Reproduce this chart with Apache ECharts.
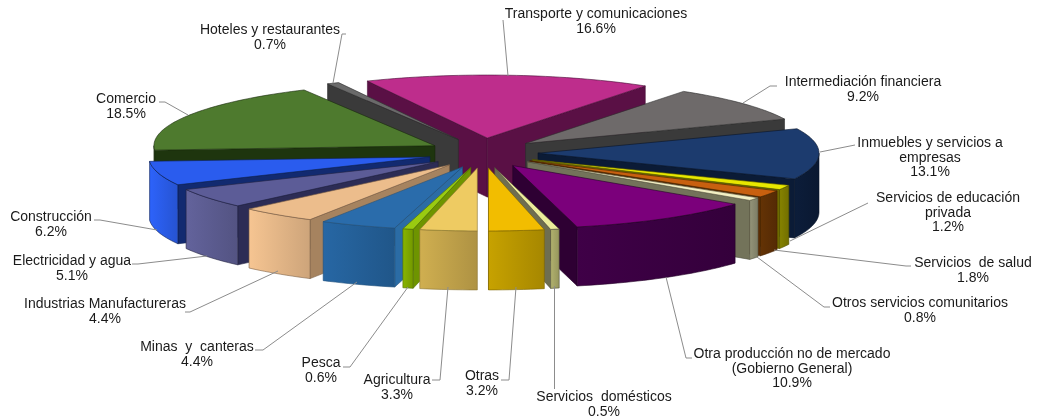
<!DOCTYPE html>
<html><head><meta charset="utf-8">
<style>html,body{margin:0;padding:0;background:#fff}#c{width:1038px;height:420px}</style>
<script src="https://cdn.jsdelivr.net/npm/echarts@6/dist/echarts.min.js"></script>
</head><body><div id="c"></div>
<script>
const categories = ['Transporte y comunicaciones','Intermediación financiera','Inmuebles y servicios a\nempresas','Servicios de educación\nprivada','Servicios  de salud','Otros servicios comunitarios','Otra producción no de mercado\n(Gobierno General)','Servicios  domésticos','Otras','Agricultura','Pesca','Minas  y  canteras','Industrias Manufactureras','Electricidad y agua','Construcción','Comercio','Hoteles y restaurantes'];
const values = [16.6,9.2,13.1,1.2,1.8,0.8,10.9,0.5,3.2,3.3,0.6,4.4,4.4,5.1,6.2,18.5,0.7];

const topColors  = ['#BE2D8C','#6E6A6A','#1C3B6E','#E8E800','#C8600F','#F3F0C4','#7B007B','#ECEC9A','#F2BD00','#EECB62','#9ACB10','#2A6CAB','#ECBD8C','#5C5C97','#2A5CEE','#4E7A2E','#6A6A6A'];
const arcColors  = ['#6A1552','#3A3A3A','#0B1B36','#7D7A00','#5D2F05','#8A8A70','#3A0042','#A5A566','#B89600','#C1A24A','#7FA800','#245F98','#E4B687','#5C5C90','#2A5CE8','#223A10','#3A3A3A'];
const sideColors = ['#5A1045','#3A3A3A','#0B1B36','#6E6B00','#5D2F05','#73735A','#2E0033','#6E6E50','#A58700','#B89A45','#6E9400','#2B6CA5','#A6835F','#2C2C55','#122A70','#1E350E','#3A3A3A'];

// label layout: text centre and leader polyline, in the same order as the categories
const labelPos = [[596,14],[863,82],[930,143],[948,198],[973,263],[920,303],[792,354],[604,397],[482,376],[397,380],[321,363],[197,347],[105,304],[72,261],[51,217],[126,99],[270,30]];
const leaders = [
 [[508,76],[503,20]],
 [[743,103],[770,86],[777,86]],
 [[820,152],[855,145]],
 [[790,241],[868,203]],
 [[774,250],[906,266],[911,266]],
 [[757,257],[824,307],[830,307]],
 [[666,277],[686,358],[692,358]],
 [[554.5,286],[554.5,389]],
 [[516,287],[509,380],[501,380]],
 [[448,287],[440,380],[432,380]],
 [[408,287],[350,367],[343,367]],
 [[357,282],[263,350],[255,350]],
 [[278,271],[190,312],[185,312]],
 [[207,256],[138,264],[132,264]],
 [[157,230],[100,220],[94,220]],
 [[188,115],[165,102],[159,102]],
 [[333,83],[342,34],[346,34]]
];

const CX=483, CY=153, RX=281, RY=63, DEPTH=59, EX=55, EY=15;
const total = values.reduce((a,b)=>a+b,0);
const START = 180 - values.slice(0,9).reduce((a,b)=>a+b,0)/total*360;
const spans=[]; let acc=START;
values.forEach(v=>{const a=v/total*360; spans.push([acc,acc+a]); acc+=a;});
const rad=d=>d*Math.PI/180;
const order = spans.map((s,i)=>[Math.cos(rad((s[0]+s[1])/2)),i]).sort((a,b)=>b[0]-a[0]).map(a=>a[1]);

function arcPts(ax,ay,a0,a1,dy){const n=Math.max(2,Math.ceil((a1-a0)/1.5));const p=[];
  for(let k=0;k<=n;k++){const t=rad(a0+(a1-a0)*k/n);p.push([ax+RX*Math.sin(t),ay-RY*Math.cos(t)+dy]);}return p;}
function shade(c,f){const n=parseInt(c.slice(1),16);const g=s=>Math.max(0,Math.min(255,Math.round(((n>>s)&255)*f)));return `rgb(${g(16)},${g(8)},${g(0)})`;}
function grad(c){return {type:'linear',x:0,y:0,x2:1,y2:0,colorStops:[{offset:0,color:shade(c,1.08)},{offset:1,color:shade(c,0.9)}]};}

function renderItem(params,api){
  const i=params.dataIndex; const [a0,a1]=spans[i];
  const rank=order.indexOf(i)*5+1;
  const mid=rad((a0+a1)/2);
  const ax=CX+EX*Math.sin(mid), ay=CY-EY*Math.cos(mid);
  const kids=[];
  const line=shade(sideColors[i],0.75);
  const poly=(pts,fill,z)=>kids.push({type:'polygon',z2:rank+z,shape:{points:pts},style:{fill:fill,stroke:line,lineWidth:0.6}});
  // radial faces that look towards the viewer
  [[a0,Math.sin(rad(a0))<0],[a1,Math.sin(rad(a1))>0]].forEach(([a,vis])=>{
    if(!vis) return;
    const t=rad(a), ox=ax+RX*Math.sin(t), oy=ay-RY*Math.cos(t);
    poly([[ax,ay],[ox,oy],[ox,oy+DEPTH],[ax,ay+DEPTH]],sideColors[i],0);
  });
  // outer curved wall, front half only
  const f0=Math.max(a0,90), f1=Math.min(a1,270);
  if(f1>f0){
    const up=arcPts(ax,ay,f0,f1,0), dn=arcPts(ax,ay,f0,f1,DEPTH).reverse();
    poly(up.concat(dn),grad(arcColors[i]),1);
  }
  // top face
  poly([[ax,ay]].concat(arcPts(ax,ay,a0,a1,0)),topColors[i],2);
  // leader
  kids.push({type:'polyline',z2:200,shape:{points:leaders[i]},style:{fill:null,stroke:'#8c8c8c',lineWidth:1}});
  // label
  kids.push({type:'text',z2:201,style:{x:labelPos[i][0],y:labelPos[i][1]-7,
    text:api.value(1)+'\n'+api.value(0).toFixed(1)+'%',
    align:'center',verticalAlign:'top',fill:'#1a1a1a',font:'14px "Liberation Sans", Arial, sans-serif',lineHeight:14.5}});
  return {type:'group',children:kids};
}
const chart=echarts.init(document.getElementById('c'),null,{renderer:'canvas'});
chart.setOption({
  animation:false,
  backgroundColor:'#fff',
  series:[{type:'custom',coordinateSystem:'none',renderItem:renderItem,silent:true,
    data:values.map((v,i)=>[v,categories[i]]),
    dimensions:[{name:'value',type:'number'},{name:'name',type:'ordinal'}]}]
});
</script></body></html>
